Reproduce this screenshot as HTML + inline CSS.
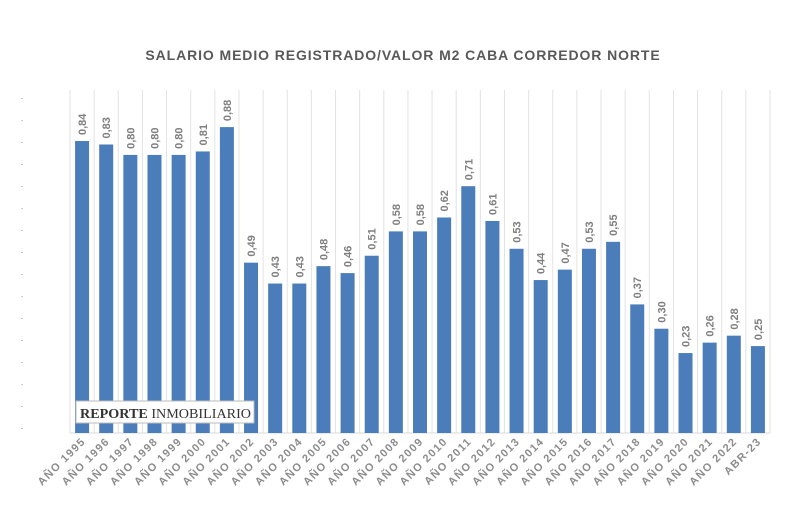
<!DOCTYPE html>
<html><head><meta charset="utf-8"><style>
body{margin:0;background:#fff;width:800px;height:505px;overflow:hidden;font-family:"Liberation Sans",sans-serif}
</style></head><body>
<svg id="c" width="800" height="505">
<text x="403" y="60" text-anchor="middle" font-size="14" font-weight="bold" fill="#595959" letter-spacing="0.9">SALARIO MEDIO REGISTRADO/VALOR M2 CABA CORREDOR NORTE</text>
<g id="g"></g>
</svg>
<script>
const categories=["AÑO 1995","AÑO 1996","AÑO 1997","AÑO 1998","AÑO 1999","AÑO 2000","AÑO 2001","AÑO 2002","AÑO 2003","AÑO 2004","AÑO 2005","AÑO 2006","AÑO 2007","AÑO 2008","AÑO 2009","AÑO 2010","AÑO 2011","AÑO 2012","AÑO 2013","AÑO 2014","AÑO 2015","AÑO 2016","AÑO 2017","AÑO 2018","AÑO 2019","AÑO 2020","AÑO 2021","AÑO 2022","ABR-23"];
const values=[0.84,0.83,0.80,0.80,0.80,0.81,0.88,0.49,0.43,0.43,0.48,0.46,0.51,0.58,0.58,0.62,0.71,0.61,0.53,0.44,0.47,0.53,0.55,0.37,0.30,0.23,0.26,0.28,0.25];
const labels=["0,84","0,83","0,80","0,80","0,80","0,81","0,88","0,49","0,43","0,43","0,48","0,46","0,51","0,58","0,58","0,62","0,71","0,61","0,53","0,44","0,47","0,53","0,55","0,37","0,30","0,23","0,26","0,28","0,25"];
const NS="http://www.w3.org/2000/svg",g=document.getElementById('g');
const x0=70,x1=770,base=433,step=(x1-x0)/categories.length,bw=14;
const y=v=>base-v*347.6;
function mk(t,a){const e=document.createElementNS(NS,t);for(const k in a)e.setAttribute(k,a[k]);g.appendChild(e);return e;}
for(let i=0;i<=categories.length;i++){const l=mk('line',{x1:x0+i*step,x2:x0+i*step,y1:90,y2:base,stroke:'#e2e2e2','stroke-width':1});

}
for(let i=0;i<16;i++){const d=mk('rect',{x:21,y:98+i*22,width:2,height:1,fill:'#ccc'});

}
const ax=mk('line',{x1:x0,x2:x1,y1:base,y2:base,stroke:'#d9d9d9','stroke-width':1});


categories.forEach((c,i)=>{const cx=x0+(i+0.5)*step;
const r=mk('rect',{x:cx-bw/2,y:y(values[i]),width:bw,height:base-y(values[i]),fill:'#4a7dba'});


const vl=mk('text',{x:0,y:0,transform:`translate(${cx+4},${y(values[i])-6}) rotate(-90)`,'font-size':11,'font-weight':'bold',fill:'#7f7f7f'});vl.textContent=labels[i];


const tl=mk('text',{x:0,y:0,transform:`translate(${cx+4},${base+9}) rotate(-45)`,'text-anchor':'end','font-size':11,'font-weight':'bold',fill:'#8c8c8c','letter-spacing':1.3});tl.textContent=c;

});
const wb=mk('rect',{x:76,y:401,width:178,height:22,fill:'#fff',stroke:'#bbb'});


const wt=mk('text',{x:80,y:418,'font-family':'Liberation Serif,serif','font-size':14,fill:'#333',textLength:171,lengthAdjust:'spacingAndGlyphs'});wt.innerHTML='<tspan font-weight="bold">REPORTE</tspan> INMOBILIARIO';


</script>
</body></html>
